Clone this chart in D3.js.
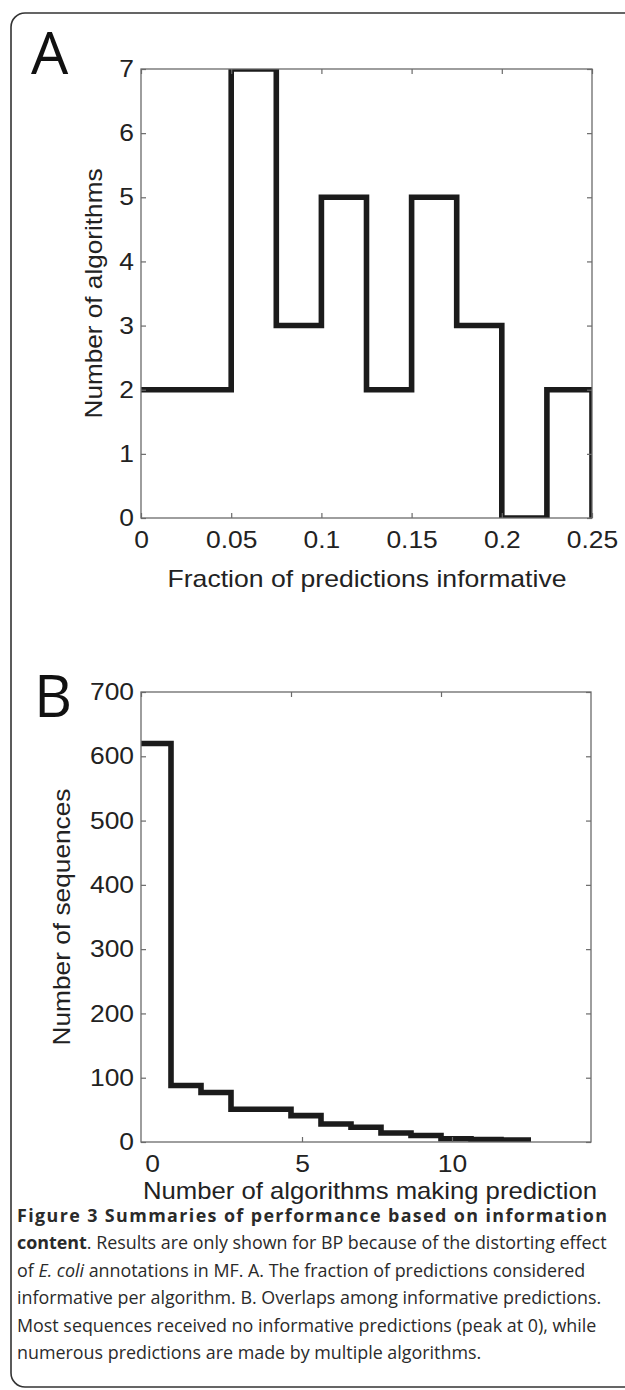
<!DOCTYPE html>
<html>
<head>
<meta charset="utf-8">
<script src="https://cdn.jsdelivr.net/npm/d3@7"></script>
<style>
  body { margin: 0; background: #fff; }
  svg { display: block; }
  .tick text { font-family: "Liberation Sans", Arial, sans-serif; font-size: 24px; fill: #222; }
  .tick line { stroke: #6a6a6a; stroke-width: 1.2; }
  .axlabel { font-family: "Liberation Sans", Arial, sans-serif; font-size: 24px; fill: #222; }
  .letter { font-family: "Open Sans", "Noto Sans", sans-serif; font-size: 59px; fill: #111; }
  .caption { font-family: "Open Sans", "Noto Sans", sans-serif; fill: #2a2a2a; }
</style>
</head>
<body>
<div id="fig"></div>
<script>

// ---- panel A : fraction of predictions informative ----
const fracEdges  = [0, 0.025, 0.05, 0.075, 0.1, 0.125, 0.15, 0.175, 0.2, 0.225, 0.25];
const fracCounts = [2, 2, 7, 3, 5, 2, 5, 3, 0, 2];
const fracTicks  = [0, 0.05, 0.1, 0.15, 0.2, 0.25];
const fracTickLabels = ['0', '0.05', '0.1', '0.15', '0.2', '0.25'];
const algCountTicks  = [0, 1, 2, 3, 4, 5, 6, 7];

// ---- panel B : number of algorithms per sequence ----
const nAlgEdges  = [0, 1, 2, 3, 4, 5, 6, 7, 8, 9, 10, 11, 12, 13];
const seqCounts  = [620, 88, 77, 51, 51, 41, 28, 23, 14, 10, 5, 4, 3];
const nAlgTicks  = [0, 5, 10];
const seqTicks   = [0, 100, 200, 300, 400, 500, 600, 700];

const captionLines = [
  '**Figure 3 Summaries of performance based on information**',
  '**content**. Results are only shown for BP because of the distorting effect',
  'of *E. coli* annotations in MF. A. The fraction of predictions considered',
  'informative per algorithm. B. Overlaps among informative predictions.',
  'Most sequences received no informative predictions (peak at 0), while',
  'numerous predictions are made by multiple algorithms.'
];

const W = 625, H = 1390;
const stretch = 1.1;   // chart lettering is a bit wider than Liberation Sans

const svg = d3.select('#fig').append('svg')
  .attr('width', W)
  .attr('height', H);

// rounded frame, right side runs off the page
svg.append('rect')
  .attr('x', 11).attr('y', 13)
  .attr('width', 700).attr('height', 1374)
  .attr('rx', 14)
  .attr('fill', 'none')
  .attr('stroke', '#333')
  .attr('stroke-width', 1.6);

function panel(cfg) {
  const g = svg.append('g').attr('class', 'panel-' + cfg.id);

  const x = d3.scaleLinear().domain(cfg.xDomain).range([cfg.l, cfg.r]);
  const y = d3.scaleLinear().domain(cfg.yDomain).range([cfg.b, cfg.t]);

  g.append('clipPath').attr('id', 'clip-' + cfg.id)
    .append('rect')
    .attr('x', cfg.l).attr('y', cfg.t)
    .attr('width', cfg.r - cfg.l).attr('height', cfg.b - cfg.t);

  // step outline
  const steps = cfg.edges.map((e, i) => ({
    x: e,
    y: i < cfg.counts.length ? cfg.counts[i] : cfg.endValue
  }));

  const line = d3.line()
    .x(d => x(d.x))
    .y(d => y(d.y))
    .curve(d3.curveStepAfter);

  g.append('path')
    .datum(steps)
    .attr('clip-path', `url(#clip-${cfg.id})`)
    .attr('d', line)
    .attr('fill', 'none')
    .attr('stroke', '#1b1b1b')
    .attr('stroke-width', 5.6)
    .attr('stroke-linejoin', 'miter');

////////////////////////////////////////////////////////////////////

  const xb = cfg.xLabelShift ? x.copy().range([cfg.l + cfg.xLabelShift, cfg.r + cfg.xLabelShift]) : x;

  const axisB = d3.axisBottom(xb)
    .tickValues(cfg.xTicks)
    .tickFormat((d, i) => cfg.xTickLabels[i])
    .tickSizeInner(-5).tickSizeOuter(0).tickPadding(13);
  const gB = g.append('g')
    .attr('transform', `translate(0,${cfg.b})`)
    .call(axisB);
  if (cfg.xLabelShift) gB.selectAll('.tick line').filter(d => d === 0).remove();

  g.append('g')
    .attr('transform', `translate(0,${cfg.t})`)
    .call(d3.axisTop(x).tickValues(cfg.xTicks).tickFormat('')
      .tickSizeInner(-5).tickSizeOuter(0));

  g.append('g')
    .attr('transform', `translate(${cfg.l},0)`)
    .call(d3.axisLeft(y).tickValues(cfg.yTicks).tickFormat(d3.format('d'))
      .tickSizeInner(-5).tickSizeOuter(0).tickPadding(7));

  g.append('g')
    .attr('transform', `translate(${cfg.r},0)`)
    .call(d3.axisRight(y).tickValues(cfg.yTicks).tickFormat('')
      .tickSizeInner(-5).tickSizeOuter(0));

  g.selectAll('.domain').remove();

  // widen the tick numbers around their anchor
  g.selectAll('.tick text').each(function () {
    const t = d3.select(this);
    const tx = +t.attr('x') || 0;
    t.attr('transform', `translate(${tx},0) scale(${stretch},1) translate(${-tx},0)`);
  });

  // box
  g.append('rect')
    .attr('x', cfg.l).attr('y', cfg.t)
    .attr('width', cfg.r - cfg.l).attr('height', cfg.b - cfg.t)
    .attr('fill', 'none')
    .attr('stroke', '#6a6a6a')
    .attr('stroke-width', 1.3);

  // labels
  g.append('text').attr('class', 'axlabel')
    .attr('x', cfg.xLabelX).attr('y', cfg.xLabelY)
    .attr('text-anchor', 'middle')
    .attr('textLength', cfg.xLabelLen)
    .attr('lengthAdjust', 'spacingAndGlyphs')
    .text(cfg.xLabel);

  g.append('text').attr('class', 'axlabel')
    .attr('transform', `translate(${cfg.yLabelX},${(cfg.t + cfg.b) / 2}) rotate(-90)`)
    .attr('text-anchor', 'middle')
    .attr('textLength', cfg.yLabelLen)
    .attr('lengthAdjust', 'spacingAndGlyphs')
    .text(cfg.yLabel);

  g.append('text').attr('class', 'letter')
    .attr('x', cfg.letterX).attr('y', cfg.letterY)
    .text(cfg.id);
}

panel({
  id: 'A',
  l: 141, r: 592, t: 69, b: 518,
  xDomain: [0, 0.25], yDomain: [0, 7],
  edges: fracEdges, counts: fracCounts, endValue: 0,
  xTicks: fracTicks, xTickLabels: fracTickLabels, yTicks: algCountTicks,
  xLabel: 'Fraction of predictions informative', xLabelX: 367, xLabelY: 587, xLabelLen: 399,
  yLabel: 'Number of algorithms', yLabelX: 102, yLabelLen: 250,
  letterX: 31, letterY: 74
});

panel({
  id: 'B',
  l: 141, r: 591, t: 692, b: 1142,
  xDomain: [0, 15], yDomain: [0, 700],
  edges: nAlgEdges, counts: seqCounts, endValue: seqCounts[seqCounts.length - 1],
  xTicks: nAlgTicks, xTickLabels: nAlgTicks.map(String), yTicks: seqTicks,
  xLabelShift: 11,
  xLabel: 'Number of algorithms making prediction', xLabelX: 370, xLabelY: 1199, xLabelLen: 454,
  yLabel: 'Number of sequences', yLabelX: 70, yLabelLen: 257,
  letterX: 34, letterY: 717
});

////////////////////////////////////////////////////////////////////
// caption

const capX = 17, capY0 = 1222, capStep = 27.4, capWidth = 590;

function segments(str) {
  return str.split(/(\*\*[^*]+\*\*|\*[^*]+\*)/).filter(s => s.length).map(s => {
    if (s.startsWith('**')) return { t: s.slice(2, -2), b: true };
    if (s.startsWith('*')) return { t: s.slice(1, -1), i: true };
    return { t: s };
  });
}

const cap = svg.append('g').attr('class', 'caption');

const capTexts = captionLines.map((ln, i) => {
  const t = cap.append('text')
    .attr('x', capX)
    .attr('y', capY0 + i * capStep)
    .attr('font-size', 17)
    .attr('xml:space', 'preserve');
  segments(ln).forEach(s => {
    t.append('tspan')
      .attr('font-weight', s.b ? 700 : 400)
      .attr('font-style', s.i ? 'italic' : 'normal')
      .text(s.t);
  });
  return t;
});

// the second line runs the full column, size the caption from it
const fs = 17 * capWidth / capTexts[1].node().getComputedTextLength();
capTexts.forEach(t => t.attr('font-size', fs));
capTexts[0].attr('textLength', capWidth).attr('lengthAdjust', 'spacing');

</script>
</body>
</html>
